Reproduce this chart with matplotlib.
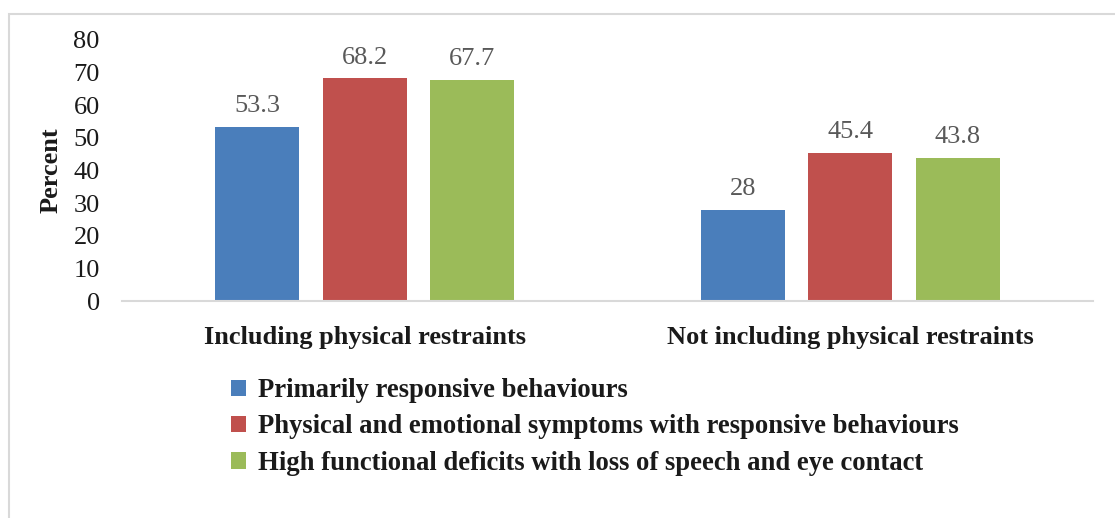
import numpy as np
import matplotlib
matplotlib.use('Agg')
import matplotlib.pyplot as plt
from matplotlib.patches import Rectangle

categories = ['Including physical restraints', 'Not including physical restraints']
series = ['Primarily responsive behaviours',
          'Physical and emotional symptoms with responsive behaviours',
          'High functional deficits with loss of speech and eye contact']
values = [[53.3, 28], [68.2, 45.4], [67.7, 43.8]]
labels = [['53.3', '28'], ['68.2', '45.4'], ['67.7', '43.8']]
colors = ['#4a7ebb', '#c0504d', '#9bbb59']

plt.rcParams['font.family'] = ['Liberation Serif', 'DejaVu Serif']

fig = plt.figure(figsize=(11.15, 5.18), dpi=100)
ax = fig.add_axes([122/1115, 1 - 301/518, 971/1115, 261/518])

x = np.arange(len(categories))
w = 0.173
step = 0.2214
for i, (vals, lab, c) in enumerate(zip(values, labels, colors)):
    pos = x + (i - 1) * step
    bars = ax.bar(pos, vals, w, color=c, label=series[i])
    for b, t in zip(bars, lab):
        ax.text(b.get_x() + b.get_width()/2, b.get_height() + 3.0, t,
                ha='center', va='bottom', fontsize=19, color='#595959')

ax.set_xlim(-0.5, 1.5)
ax.set_ylim(0, 80)
ax.set_yticks(range(0, 81, 10))
ax.set_xticks(x)
ax.set_xticklabels(categories, fontsize=19, fontweight='bold', color='#1a1a1a')
ax.tick_params(axis='y', length=0, pad=16, labelsize=19, labelcolor='#1a1a1a')
ax.tick_params(axis='x', length=0, pad=18)
for s in ['top', 'right', 'left']:
    ax.spines[s].set_visible(False)
ax.spines['bottom'].set_color('#d9d9d9')
ax.spines['bottom'].set_linewidth(1.5)
ax.set_ylabel('Percent', fontsize=19, fontweight='bold', color='#1a1a1a', labelpad=8)

leg = fig.legend(loc='upper left', bbox_to_anchor=(231/1115, 1 - 378/518),
                 frameon=False, prop={'weight': 'bold', 'size': 19.2},
                 handlelength=0.55, handleheight=0.55, handletextpad=0.45,
                 labelspacing=0.43, borderpad=0, borderaxespad=0)
for t in leg.get_texts():
    t.set_color('#1a1a1a')

# outer frame
fig.patches.append(Rectangle((9/1115, -0.1), 1.2, 1 - 14/518 + 0.1,
                             transform=fig.transFigure, fill=False,
                             edgecolor='#d9d9d9', linewidth=1.5))

fig.savefig('out.png', dpi=100)
